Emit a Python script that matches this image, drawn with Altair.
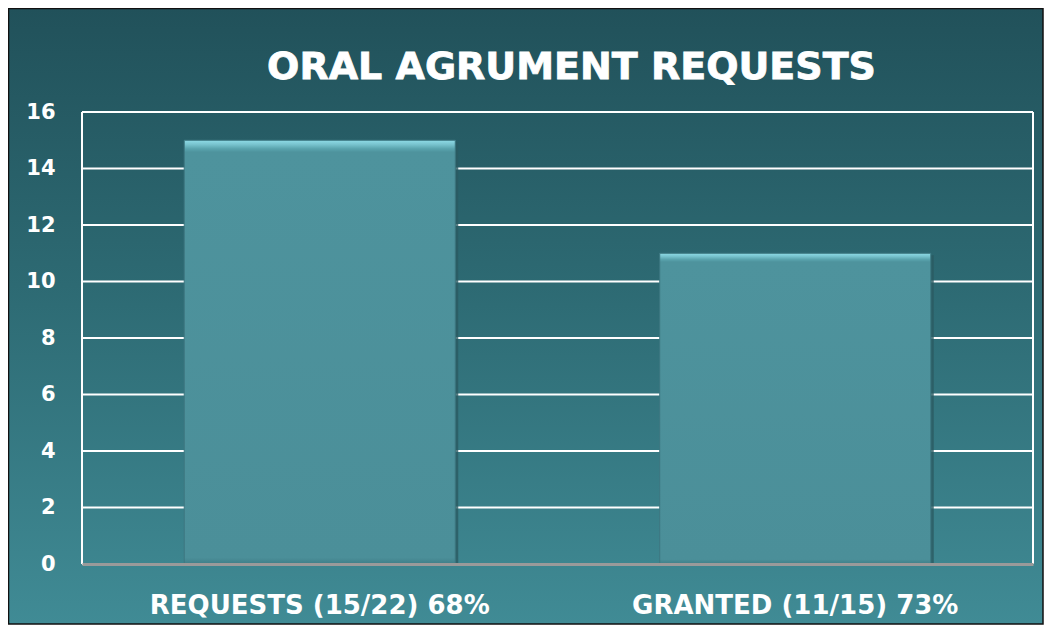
import altair as alt
import pandas as pd

categories = ["REQUESTS (15/22) 68%", "GRANTED (11/15) 73%"]
values = [15, 11]
grid_values = [0, 2, 4, 6, 8, 10, 12, 14, 16]
title_text = "ORAL AGRUMENT REQUESTS"

W, H = 951, 452
PL, PT, PR, PB = 74, 104, 11, 61

df = pd.DataFrame({"cat": categories, "val": values})
grid_df = pd.DataFrame({"g": grid_values})
one = pd.DataFrame({"a": [0]})

yscale = alt.Scale(domain=[0, 16])
xscale = alt.Scale(paddingInner=0.43, paddingOuter=0.215)

yaxis = alt.Axis(
    values=grid_values, grid=False, domain=False, ticks=False,
    labelColor="white", labelFont="DejaVu Sans",
    labelFontWeight="bold", labelFontSize=21, labelPadding=27, zindex=1,
)
xaxis = alt.Axis(
    labelAngle=0, labelColor="white", labelFont="DejaVu Sans",
    labelFontWeight="bold", labelFontSize=26, labelPadding=28,
    ticks=False, domainColor="#9a9a9a", domainWidth=3, zindex=1,
    labelLimit=500,
)

bg = alt.Chart(one).mark_rect(
    fill=alt.Gradient(
        gradient="linear",
        stops=[
            alt.GradientStop(color="#21515a", offset=0),
            alt.GradientStop(color="#2d6a73", offset=0.45),
            alt.GradientStop(color="#408b95", offset=1),
        ],
        x1=0, x2=0, y1=0, y2=1,
    ),
    stroke="#111111",
    strokeWidth=1.5,
).encode(
    x=alt.value(-PL + 0.5), x2=alt.value(W + PR - 1),
    y=alt.value(-PT + 0.5), y2=alt.value(H + PB - 1),
)

grid = alt.Chart(grid_df).mark_rule(color="white", strokeWidth=2).encode(
    y=alt.Y("g:Q", scale=yscale, title=None, axis=yaxis)
)

left_border = alt.Chart(one).mark_rule(color="white", strokeWidth=2).encode(
    x=alt.value(0), y=alt.value(0), y2=alt.value(H),
)
right_border = alt.Chart(one).mark_rule(color="white", strokeWidth=2).encode(
    x=alt.value(W), y=alt.value(0), y2=alt.value(H),
)

shadow = alt.Chart(df).mark_bar(color="#2a5a62", xOffset=3, yOffset=2, opacity=0.8).encode(
    x=alt.X("cat:N", sort=None, scale=xscale, title=None, axis=xaxis),
    y=alt.Y("val:Q", scale=yscale, title=None, axis=yaxis),
)

bars = alt.Chart(df).mark_bar(
    fill=alt.Gradient(
        gradient="linear",
        stops=[
            alt.GradientStop(color="#8fdbe6", offset=0),
            alt.GradientStop(color="#78c3ce", offset=0.01),
            alt.GradientStop(color="#5aa4ae", offset=0.02),
            alt.GradientStop(color="#4e939d", offset=0.028),
            alt.GradientStop(color="#4b8f99", offset=0.985),
            alt.GradientStop(color="#3f7f88", offset=1),
        ],
        x1=0, x2=0, y1=0, y2=1,
    ),
    stroke="#3d7780",
    strokeWidth=1,
).encode(
    x=alt.X("cat:N", sort=None, scale=xscale, title=None, axis=xaxis),
    y=alt.Y("val:Q", scale=yscale, title=None, axis=yaxis),
)

title = alt.Chart(one).mark_text(
    text=title_text, font="DejaVu Sans", fontWeight="bold", fontSize=38,
    color="white", stroke="white", strokeWidth=0.8, align="center", baseline="middle",
).encode(x=alt.value(489.5), y=alt.value(-44))

chart = alt.layer(bg, grid, left_border, right_border, shadow, bars, title).properties(
    width=W, height=H,
    autosize=alt.AutoSizeParams(type="none"),
    padding={"left": PL, "top": PT, "right": PR, "bottom": PB},
    background="white",
).configure_view(stroke=None)

chart.save("out.html", embed_options={"renderer": "svg", "actions": False})
